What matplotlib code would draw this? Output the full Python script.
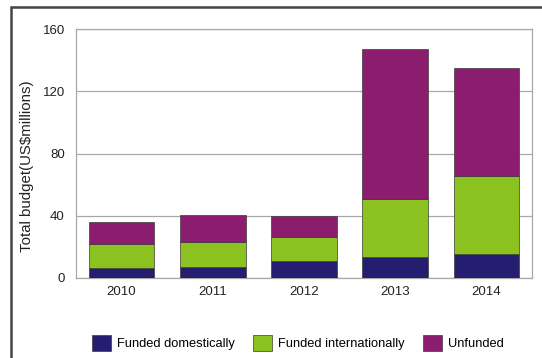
import numpy as np
import matplotlib.pyplot as plt
from matplotlib.patches import Rectangle

plt.rcParams['font.family'] = ['Liberation Sans', 'DejaVu Sans']

years = ['2010', '2011', '2012', '2013', '2014']
domestic = [6.6, 7.3, 10.9, 13.7, 15.2]
international = [15.2, 16.0, 15.6, 37.3, 50.5]
unfunded = [14.2, 17.0, 13.3, 96.4, 69.3]

c_dom = '#251d6f'
c_int = '#8cc220'
c_unf = '#8c1c6e'

fig = plt.figure(figsize=(5.42, 3.58), dpi=100)
ax = fig.add_axes([76/542, 1 - 278/358, 456/542, 249/358])

x = np.arange(len(years))
w = 0.72
dom = np.array(domestic)
intl = np.array(international)
unf = np.array(unfunded)
ax.bar(x, dom, w, color=c_dom, edgecolor='#3a3a3a', linewidth=0.5, label='Funded domestically', zorder=3)
ax.bar(x, intl, w, bottom=dom, color=c_int, edgecolor='#3a3a3a', linewidth=0.5, label='Funded internationally', zorder=3)
ax.bar(x, unf, w, bottom=dom + intl, color=c_unf, edgecolor='#3a3a3a', linewidth=0.5, label='Unfunded', zorder=3)

ax.set_xlim(-0.5, len(years) - 0.5)
ax.set_ylim(0, 160)
ax.set_yticks([0, 40, 80, 120, 160])
ax.set_xticks(x)
ax.set_xticklabels(years)
ax.tick_params(length=0, labelsize=9.5, colors='#222222')
ax.tick_params(axis='y', pad=8)
ax.tick_params(axis='x', pad=6)
ax.yaxis.grid(True, color='#a8a8a8', linewidth=0.9, zorder=0)
for s in ax.spines.values():
    s.set_color('#a8a8a8')
    s.set_linewidth(0.9)
ax.set_ylabel('Total budget(US$millions)', fontsize=10.8, color='#222222')
ax.yaxis.set_label_coords(-0.093, 0.45)

fig.legend(loc='center', bbox_to_anchor=(298/542, 1 - 343/358), ncol=3, frameon=False,
           fontsize=9.3, handlelength=1.45, handleheight=1.5, handletextpad=0.5,
           columnspacing=1.4)

fig.patches.append(Rectangle((11/542, -0.1), 1.2, 1 - 7/358 + 0.1, transform=fig.transFigure,
                             fill=False, edgecolor='#444444', linewidth=1.8))

fig.savefig('out.png', dpi=100)
